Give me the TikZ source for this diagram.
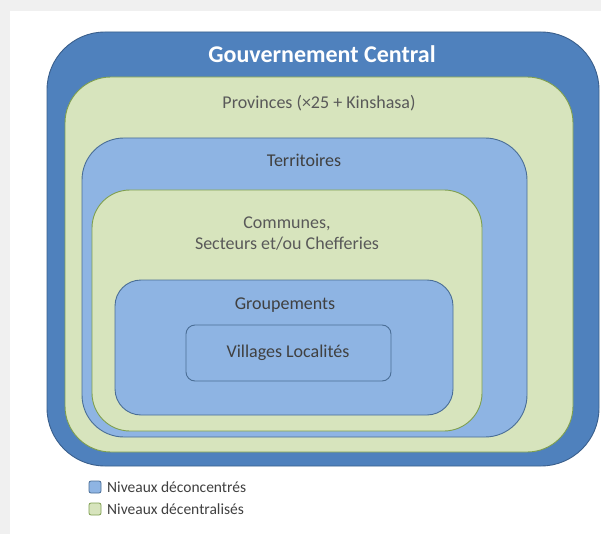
\documentclass[tikz,border=0pt]{standalone}
\usepackage{fontspec}
\setmainfont{Carlito}
\begin{document}
\definecolor{pagegray}{HTML}{F0F0F0}
\definecolor{darkblue}{HTML}{4F81BD}
\definecolor{darkblueline}{HTML}{3A5F8C}
\definecolor{lightblue}{HTML}{8EB4E3}
\definecolor{lightblueline}{HTML}{4A6E96}
\definecolor{palegreen}{HTML}{D7E4BD}
\definecolor{greenline}{HTML}{7F9F4F}
\definecolor{labelgray}{HTML}{595959}
\definecolor{labeldark}{HTML}{404040}
\begin{tikzpicture}[x=1pt,y=-1pt,
  level/.style={line width=0.9pt},
  deconc/.style={level,fill=lightblue,draw=lightblueline},
  decent/.style={level,fill=palegreen,draw=greenline},
  caption/.style={font=\fontsize{18}{21}\selectfont,inner sep=0pt},
  legendbox/.style={line width=0.8pt,rounded corners=2pt},
  legendtext/.style={font=\fontsize{15.5}{17}\selectfont,text=labeldark,anchor=west,inner sep=0pt}]
  % page background and white panel
  \fill[pagegray] (0,0) rectangle (601,534);
  \fill[white] (10,11) rectangle (601,534);
  \useasboundingbox (0,0) rectangle (601,534);

  % nested administrative levels
  \draw[level,fill=darkblue,draw=darkblueline,rounded corners=58pt] (47,32) rectangle (599,466);
  \draw[decent,rounded corners=46pt] (65,77) rectangle (573,452);
  \draw[deconc,rounded corners=42pt] (82,138) rectangle (527,437);
  \draw[decent,rounded corners=38pt] (92,190) rectangle (482,431);
  \draw[deconc,rounded corners=26pt] (115,280) rectangle (453,415);
  \draw[deconc,rounded corners=9pt] (186,325) rectangle (391,381);

  % level names
  \node[inner sep=0pt,text=white,font=\fontsize{24}{28}\selectfont\bfseries] (gouv) at (322,54) {Gouvernement Central};
  \node[caption,text=labelgray] (prov) at (319,103) {Provinces (×25 + Kinshasa)};
  \node[caption,text=labeldark] (terr) at (304,160) {Territoires};
  \node[caption,text=labelgray,align=center,font=\fontsize{18}{21}\selectfont] (comm) at (287,234) {Communes,\\Secteurs et/ou Chefferies};
  \node[caption,text=labeldark] (grp) at (285,305) {Groupements};
  \node[caption,text=labeldark] (vill) at (288,353) {Villages Localités};

  % legend
  \draw[legendbox,fill=lightblue,draw=lightblueline] (89,481) rectangle (101,493);
  \node[legendtext] (ldec) at (107,487) {Niveaux déconcentrés};
  \draw[legendbox,fill=palegreen,draw=greenline] (89,503) rectangle (101,515);
  \node[legendtext] (ldcz) at (107,509) {Niveaux décentralisés};
\end{tikzpicture}
\end{document}
